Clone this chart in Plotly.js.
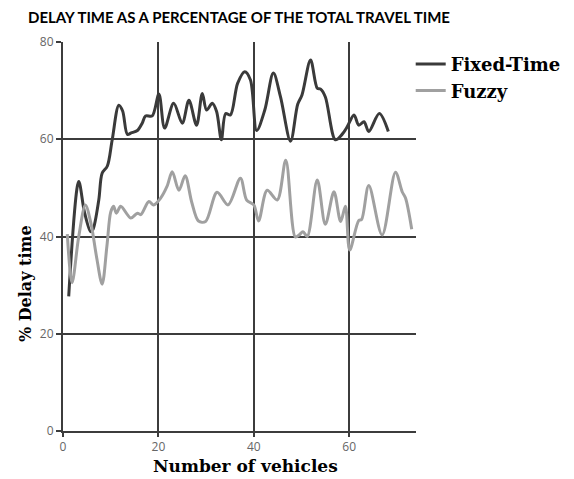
<!DOCTYPE html>
<html>
<head>
<meta charset="utf-8">
<script src="https://cdn.plot.ly/plotly-3.0.1.min.js"></script>
<style>html,body{margin:0;padding:0;background:#fff;}#chart{width:574px;height:479px;}</style>
</head>
<body>
<div id="chart"></div>
<script>
// Fixed-Time series
var fixedX = [1.2, 3.3, 4.5, 5.8, 6.3, 7.5, 8.2, 9.3, 10.3, 11.7, 12.5, 13.5, 14.3, 15.6, 16.6, 17.3, 18.7, 20.1, 21.3, 23.2, 25.0, 26.4, 28.0, 29.2, 30.1, 31.3, 32.2, 33.2, 34.1, 35.1, 36.6, 38.1, 39.3, 40.6, 42.3, 44.1, 45.6, 47.7, 49.2, 50.1, 51.9, 53.3, 54.0, 55.0, 57.1, 58.5, 59.6, 61.0, 62.0, 63.1, 64.1, 66.3, 68.2];
var fixedY = [27.7, 51.3, 45, 41, 41.5, 47.5, 53, 54.5, 59.8, 67, 65.8, 61, 61.3, 61.8, 63.3, 64.8, 64.8, 69.3, 62.3, 67.4, 63.3, 68, 62.9, 69.4, 66, 67.4, 65.7, 59.9, 65.3, 65, 71.5, 73.9, 72.2, 61.8, 66, 73.6, 68.7, 59.6, 67.2, 69.1, 76.3, 70.5, 70.3, 68.7, 59.9, 61, 62.6, 65, 62.9, 63.6, 61.6, 65.3, 61.6];
// Fuzzy series
var fuzzyX = [0.9, 1.9, 3.3, 4.7, 5.9, 7.0, 8.2, 9.2, 10.0, 10.6, 11.2, 12.1, 14.2, 15.6, 16.3, 18.0, 19.0, 20.4, 21.8, 22.9, 24.3, 25.6, 27.0, 28.4, 29.9, 32.3, 34.6, 37.2, 38.5, 40.0, 41.0, 42.8, 44.9, 46.7, 48.7, 49.5, 50.3, 51.2, 53.3, 55.0, 56.8, 58.2, 59.2, 60.1, 62.0, 62.6, 64.1, 66.9, 69.7, 71.1, 71.8, 73.1];
var fuzzyY = [40.5, 30.5, 40, 46.5, 42.5, 36, 30.2, 38, 45, 46.2, 44.8, 46.2, 43.8, 44.8, 44.5, 47.2, 46.5, 47.8, 50.3, 53.3, 49.5, 52.5, 47, 43.2, 43.1, 49.1, 46.5, 52, 47.5, 46.5, 43.2, 49.5, 47.5, 55.7, 39.9, 40.3, 41, 40, 51.6, 42.5, 49.2, 43.1, 46.2, 37.2, 43.3, 43.5, 50.5, 40.3, 53.2, 49.2, 47.9, 41.5];
var xTicks = [0, 20, 40, 60];
var yTicks = [0, 20, 40, 60, 80];

var traces = [
  {x: fixedX, y: fixedY, name: 'Fixed-Time', mode: 'lines', line: {color: '#3a3a3a', width: 3, shape: 'spline', smoothing: 0.9}},
  {x: fuzzyX, y: fuzzyY, name: 'Fuzzy', mode: 'lines', line: {color: '#a0a0a0', width: 3, shape: 'spline', smoothing: 0.9}}
];

var serifBold = {family: 'DejaVu Serif', color: '#000', weight: 'bold'};

var layout = {
  width: 574, height: 479,
  margin: {l: 63, r: 158, t: 42, b: 48, autoexpand: false},
  paper_bgcolor: '#fff', plot_bgcolor: '#fff',
  title: {text: 'DELAY TIME AS A PERCENTAGE OF THE TOTAL TRAVEL TIME', font: {family: 'Lato', size: 15, color: '#000', weight: 'bold'}, x: 28/574, xanchor: 'left', xref: 'container', y: 1 - 18/479, yanchor: 'middle', yref: 'container'},
  showlegend: true,
  legend: {x: 0.985, xanchor: 'left', y: 0.99, yanchor: 'top', bgcolor: 'rgba(255,255,255,0)', font: Object.assign({size: 18}, serifBold), tracegroupgap: 0, itemwidth: 30},
  xaxis: {range: [0, 74], tickvals: xTicks, ticktext: xTicks.map(String), showgrid: true, gridcolor: '#3c3c3c', gridwidth: 2, zeroline: false, showline: true, linecolor: '#3c3c3c', linewidth: 2, ticks: 'outside', ticklen: 4, tickcolor: '#3c3c3c', tickwidth: 2, tickfont: {family: 'Open Sans', size: 12, color: '#666'}},
  yaxis: {range: [0, 80], tickvals: yTicks, ticktext: yTicks.map(String), showgrid: true, gridcolor: '#3c3c3c', gridwidth: 2, zeroline: false, showline: true, linecolor: '#3c3c3c', linewidth: 2, ticks: 'outside', ticklen: 5, tickcolor: '#3c3c3c', tickwidth: 2, tickfont: {family: 'Open Sans', size: 12, color: '#666'}},
  annotations: [
    {text: 'Number of vehicles', xref: 'paper', yref: 'paper', x: 0.518, y: -0.091, xanchor: 'center', yanchor: 'middle', showarrow: false, font: Object.assign({size: 17}, serifBold)},
    {text: '% Delay time', xref: 'paper', yref: 'paper', x: -0.108, y: 0.38, xanchor: 'center', yanchor: 'middle', textangle: -90, showarrow: false, font: Object.assign({size: 16}, serifBold)}
  ]
};

Plotly.newPlot('chart', traces, layout, {displayModeBar: false, staticPlot: true});
</script>
</body>
</html>
